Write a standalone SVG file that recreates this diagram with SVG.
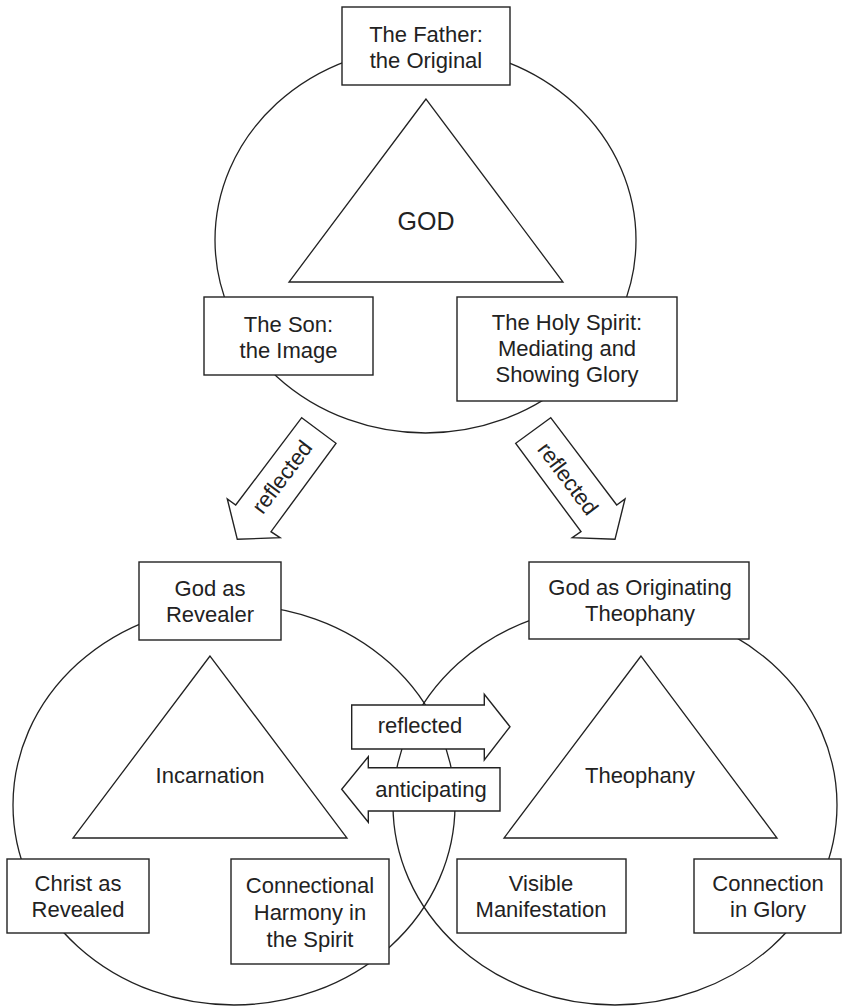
<svg xmlns="http://www.w3.org/2000/svg" width="842" height="1006" viewBox="0 0 842 1006">
<style>
.ln{fill:none;stroke:#222;stroke-width:1.3}
.bx{fill:#fff;stroke:#222;stroke-width:1.4}
.ar{fill:#fff;stroke:#222;stroke-width:1.4;stroke-linejoin:miter}
text{font-family:"Liberation Sans",Arial,Helvetica,sans-serif;font-size:22px;fill:#222;text-anchor:middle}
</style>
<rect width="842" height="1006" fill="#fff"/>
<g id="circles">
<ellipse class="ln" cx="425.5" cy="240" rx="210.5" ry="193"/>
<ellipse class="ln" cx="234" cy="805" rx="221" ry="200"/>
<ellipse class="ln" cx="615" cy="805" rx="222" ry="200"/>
</g>
<g id="god">
<polygon class="ln" points="426,99 289,282 563,282"/>
<text x="426" y="230" style="font-size:25px">GOD</text>
</g>
<g id="incarnation">
<polygon class="ln" points="210,656 73,838 347,838"/>
<text x="210" y="783">Incarnation</text>
</g>
<g id="theophany">
<polygon class="ln" points="641,656 504,838 777,838"/>
<text x="640" y="783">Theophany</text>
</g>
<g id="father">
<rect class="bx" x="342" y="7" width="168" height="78"/>
<text x="426" y="42">The Father:</text>
<text x="426" y="68">the Original</text>
</g>
<g id="son">
<rect class="bx" x="204" y="297" width="169" height="78"/>
<text x="288.5" y="332">The Son:</text>
<text x="288.5" y="358">the Image</text>
</g>
<g id="spirit">
<rect class="bx" x="457" y="297" width="220" height="104"/>
<text x="567" y="330">The Holy Spirit:</text>
<text x="567" y="356">Mediating and</text>
<text x="567" y="382">Showing Glory</text>
</g>
<g id="revealer">
<rect class="bx" x="139" y="562" width="142" height="78"/>
<text x="210" y="596">God as</text>
<text x="210" y="622">Revealer</text>
</g>
<g id="originating">
<rect class="bx" x="529" y="562" width="220" height="77"/>
<text x="640" y="595">God as Originating</text>
<text x="640" y="621">Theophany</text>
</g>
<g id="christ">
<rect class="bx" x="7" y="859" width="142" height="74"/>
<text x="78" y="891">Christ as</text>
<text x="78" y="917">Revealed</text>
</g>
<g id="harmony">
<rect class="bx" x="231" y="859" width="158" height="105"/>
<text x="310" y="893">Connectional</text>
<text x="310" y="920">Harmony in</text>
<text x="310" y="947">the Spirit</text>
</g>
<g id="visible">
<rect class="bx" x="457" y="859" width="169" height="74"/>
<text x="541" y="891">Visible</text>
<text x="541" y="917">Manifestation</text>
</g>
<g id="glory">
<rect class="bx" x="694" y="859" width="147" height="74"/>
<text x="768" y="891">Connection</text>
<text x="768" y="917">in Glory</text>
</g>
<g id="connectors">
<g id="arrow-left">
<polygon class="ar" points="301.7,417.7 336,443.3 271,531.7 280,537.7 237.3,539.3 227.3,499 235.7,505"/>
<text transform="translate(281.7,476.7) rotate(-53)" x="0" y="8">reflected</text>
</g>
<g id="arrow-right">
<polygon class="ar" points="550.7,417.7 515.7,443.3 581,531.7 572.3,537.7 615,539.3 625,499 616.7,505"/>
<text transform="translate(568.3,478.3) rotate(53)" x="0" y="8">reflected</text>
</g>
<g id="arrow-reflected">
<polygon class="ar" points="351.7,705 484.3,705 484.3,694.3 510,726.7 484.3,760 484.3,749 351.7,749"/>
<text x="420" y="733">reflected</text>
</g>
<g id="arrow-anticipating">
<polygon class="ar" points="500,767.7 368.3,767.7 368.3,756.7 341.7,789.3 368.3,822.3 368.3,811 500,811"/>
<text x="431" y="797">anticipating</text>
</g>
</g>
</svg>
